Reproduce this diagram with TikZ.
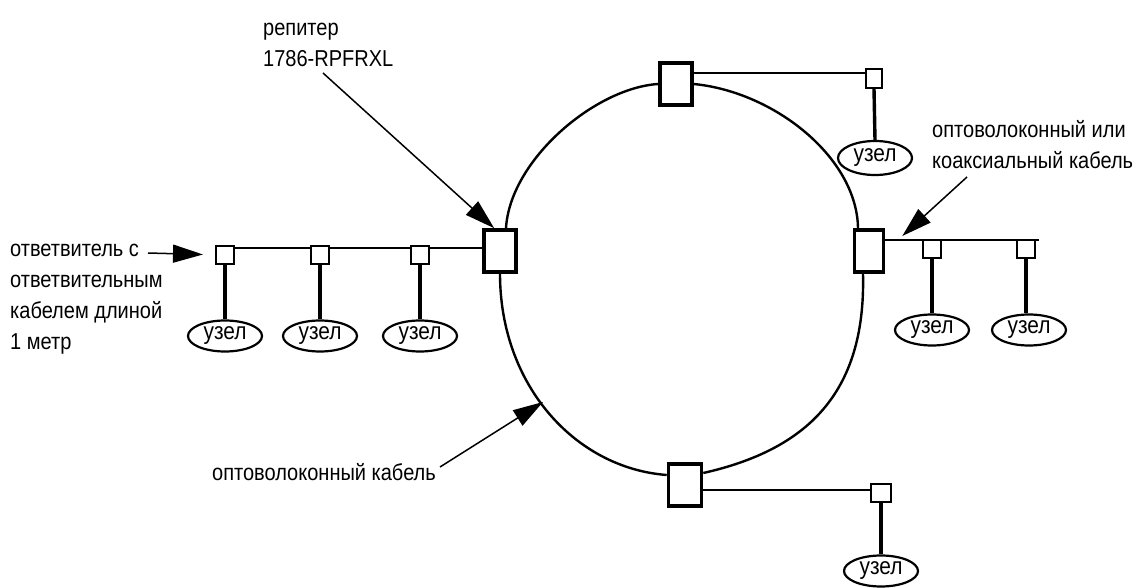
\documentclass[tikz,border=0pt]{standalone}
\usepackage{fontspec}
\setmainfont{Liberation Sans}[FakeStretch=0.87]
\usetikzlibrary{arrows.meta,shapes.geometric}
\tikzset{
  repbox/.style={draw, fill=white, line width=3.6pt, minimum width=32pt, minimum height=42pt, inner sep=0pt},
  tapbox/.style={draw, fill=white, line width=2pt, minimum width=18pt, minimum height=18pt, inner sep=0pt},
  nodeell/.style={draw, fill=white, ellipse, line width=2.2pt, minimum width=74pt, minimum height=31pt, inner sep=0pt, font=\fontsize{24}{28}\selectfont},
  ringline/.style={line width=2.4pt},
  busline/.style={line width=2.4pt},
  dropline/.style={line width=3.4pt},
  callout/.style={line width=1.5pt, -{Triangle[length=30pt,width=18pt]}},
  lbl/.style={font=\fontsize{23}{31}\selectfont, inner sep=0pt, align=left, anchor=north west}
}
\begin{document}
\begin{tikzpicture}[x=1pt,y=-1pt]
\fill[white] (0,0) rectangle (1135,588);
\useasboundingbox (0,0) rectangle (1135,588);

% repeaters
\node[repbox] (L) at (500,251) {};
\node[repbox] (T) at (676,84) {};
\node[repbox, minimum width=29pt] (R) at (869,251) {};
\node[repbox, minimum width=33pt] (B) at (685,485) {};

% ring
\draw[ringline] ([xshift=6pt]L.north) .. controls (510,160) and (595,88) .. (T.west);
\draw[ringline] (T.east) .. controls (775,92) and (857,158) .. ([xshift=-11pt]R.north);
\draw[ringline] (L.south) .. controls (500,385) and (575,468) .. ([yshift=10pt]B.west);
\draw[ringline] ([xshift=-6pt]R.south) .. controls (866,395) and (805,450) .. ([yshift=12pt]B.east);

% taps
\node[tapbox] (s1) at (225,254.5) {};
\node[tapbox] (s2) at (320,255) {};
\node[tapbox] (s3) at (420,255) {};
\node[tapbox, minimum width=16pt, minimum height=19pt] (t1) at (874,78.5) {};
\node[tapbox] (r1) at (932,249) {};
\node[tapbox] (r2) at (1026,249) {};
\node[tapbox, minimum width=20pt] (b1) at (881,493) {};

% node ellipses
\node[nodeell] (e1) at (225,336) {узел};
\node[nodeell] (e2) at (320,336) {узел};
\node[nodeell] (e3) at (420,336) {узел};
\node[nodeell, minimum height=34pt] (et) at (875,158) {узел};
\node[nodeell] (er1) at (932,330) {узел};
\node[nodeell] (er2) at (1029,330) {узел};
\node[nodeell] (eb) at (881,571) {узел};

% buses
\coordinate (yL) at (0,248);
\coordinate (yR) at (0,240);
\coordinate (yT) at (0,73);
\coordinate (yB) at (0,490);
\draw[busline] (s1.east |- yL) -- (s2.west |- yL);
\draw[busline] (s2.east |- yL) -- (s3.west |- yL);
\draw[busline] (s3.east |- yL) -- (L.west |- yL);
\draw[busline] (R.east |- yR) -- (r1.west |- yR);
\draw[busline] (r1.east |- yR) -- ([xshift=3pt]r2.east |- yR);
\draw[busline] (T.east |- yT) -- (t1.west |- yT);
\draw[busline] (B.east |- yB) -- (b1.west |- yB);

% drops
\draw[dropline] (s1.south) -- (e1.north);
\draw[dropline] (s2.south) -- (e2.north);
\draw[dropline] (s3.south) -- (e3.north);
\draw[dropline] (t1.south) -- (et.north);
\draw[dropline] (r1.south) -- (er1.north);
\draw[dropline] (r2.south) -- (r2.south |- er2.north);
\draw[dropline] (b1.south) -- (eb.north);

% labels
\node[lbl] (lrep) at (263,13.3) {\strut репитер\\\strut 1786-RPFRXL};
\node[lbl] (ltap) at (10,234.3) {\strut ответвитель с\\\strut ответвительным\\\strut кабелем длиной\\\strut 1 метр};
\node[lbl] (lcoax) at (932,115.3) {\strut оптоволоконный или\\\strut коаксиальный кабель};
\node[lbl, anchor=base west] (lfib) at (212,480) {оптоволоконный кабель};

% callouts
\coordinate (a1s) at (148,253);
\draw[callout] (a1s) -- ([xshift=-12pt]s1.west);
\coordinate (a2s) at (323,73);
\draw[callout] (a2s) -- ([xshift=12pt]L.north west);
\coordinate (a3s) at (967,177);
\draw[callout] (a3s) -- ([xshift=17pt,yshift=15pt]R.east);
\coordinate (a4s) at (440,467);
\coordinate (a4e) at (543,402);
\draw[callout] (a4s) -- (a4e);
\end{tikzpicture}
\end{document}
